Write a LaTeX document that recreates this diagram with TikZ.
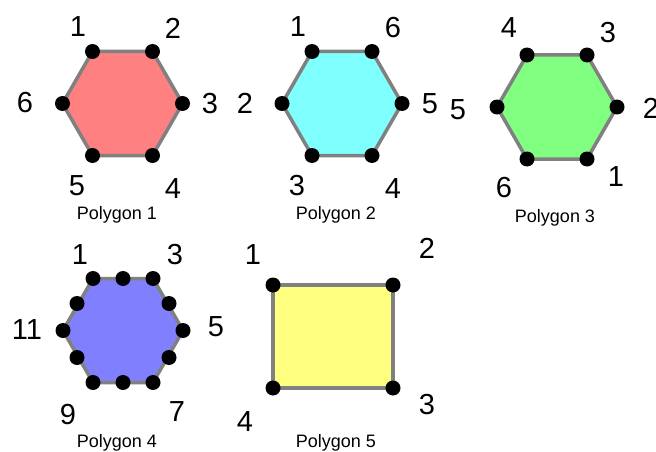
\documentclass[tikz,border=0pt]{standalone}
\usepackage{fontspec}
\setmainfont{Liberation Sans}
\definecolor{pred}{RGB}{255,128,128}
\definecolor{pcyan}{RGB}{128,255,255}
\definecolor{pgreen}{RGB}{128,255,128}
\definecolor{pblue}{RGB}{128,128,255}
\definecolor{pyellow}{RGB}{255,255,128}
\definecolor{pgray}{RGB}{128,128,128}
\tikzset{
  poly/.style={draw=pgray, line width=3.5pt, line join=round},
  vdot/.style={circle, fill=black, inner sep=0pt, minimum size=15pt},
  vlab/.style={inner sep=0pt, font=\fontsize{29}{29}\selectfont},
  captext/.style={inner sep=0pt, font=\fontsize{18}{18}\selectfont}
}
\begin{document}
\begin{tikzpicture}[x=1pt,y=-1pt]
\useasboundingbox (0,0) rectangle (656,452);
% Polygon 1
\coordinate (a1) at (92.5,51.5);
\coordinate (a2) at (152.5,51.5);
\coordinate (a3) at (182.5,103.5);
\coordinate (a4) at (152.5,155.5);
\coordinate (a5) at (92.5,155.5);
\coordinate (a6) at (62.5,103.5);
\draw[poly, fill=pred] (a1)--(a2)--(a3)--(a4)--(a5)--(a6)--cycle;
\foreach \i in {1,...,6} \node[vdot] (da\i) at (a\i) {};
\node[vlab] (la1) at (78,27) {1};
\node[vlab] (la2) at (173,28) {2};
\node[vlab] (la3) at (210,104) {3};
\node[vlab] (la4) at (173,189) {4};
\node[vlab] (la5) at (77,186) {5};
\node[vlab] (la6) at (25,103) {6};
\node[captext] (ca) at (117,215) {Polygon 1};
% Polygon 2
\coordinate (b1) at (312,51.5);
\coordinate (b6) at (372,51.5);
\coordinate (b5) at (402,103.5);
\coordinate (b4) at (372,155.5);
\coordinate (b3) at (312,155.5);
\coordinate (b2) at (282,103.5);
\draw[poly, fill=pcyan] (b1)--(b2)--(b3)--(b4)--(b5)--(b6)--cycle;
\foreach \i in {1,...,6} \node[vdot] (db\i) at (b\i) {};
\node[vlab] (lb1) at (298,27) {1};
\node[vlab] (lb6) at (393,28) {6};
\node[vlab] (lb5) at (430,104) {5};
\node[vlab] (lb4) at (393,189) {4};
\node[vlab] (lb3) at (297,186) {3};
\node[vlab] (lb2) at (245,103) {2};
\node[captext] (cb) at (336,215) {Polygon 2};
% Polygon 3
\coordinate (c4) at (527,55);
\coordinate (c3) at (587,55);
\coordinate (c2) at (617,107);
\coordinate (c1) at (587,159);
\coordinate (c6) at (527,159);
\coordinate (c5) at (497,107);
\draw[poly, fill=pgreen] (c1)--(c2)--(c3)--(c4)--(c5)--(c6)--cycle;
\foreach \i in {1,...,6} \node[vdot] (dc\i) at (c\i) {};
\node[vlab] (lc4) at (509,28) {4};
\node[vlab] (lc3) at (608,33) {3};
\node[vlab] (lc2) at (651,108) {2};
\node[vlab] (lc1) at (616,177) {1};
\node[vlab] (lc6) at (504,188) {6};
\node[vlab] (lc5) at (458,110) {5};
\node[captext] (cc) at (555,218) {Polygon 3};
% Polygon 4
\coordinate (d1) at (93,278.5);
\coordinate (d2) at (123,278.5);
\coordinate (d3) at (153,278.5);
\coordinate (d4) at (169,303.5);
\coordinate (d5) at (183,330.5);
\coordinate (d6) at (169,357.5);
\coordinate (d7) at (153,382.5);
\coordinate (d8) at (123,382.5);
\coordinate (d9) at (93,382.5);
\coordinate (d10) at (77,357.5);
\coordinate (d11) at (63,330.5);
\coordinate (d12) at (77,303.5);
\draw[poly, fill=pblue] (d1)--(d3)--(d5)--(d7)--(d9)--(d11)--cycle;
\foreach \i in {1,...,12} \node[vdot] (dd\i) at (d\i) {};
\node[vlab] (ld1) at (80,255) {1};
\node[vlab] (ld3) at (175,255) {3};
\node[vlab] (ld5) at (216,327) {5};
\node[vlab] (ld7) at (177,412) {7};
\node[vlab] (ld9) at (68,415) {9};
\node[vlab] (ld11) at (27,330) {11};
\node[captext] (cd) at (117,443) {Polygon 4};
% Polygon 5
\coordinate (e1) at (273,285);
\coordinate (e2) at (393,285);
\coordinate (e3) at (393,388);
\coordinate (e4) at (273,388);
\draw[poly, fill=pyellow] (e1)--(e2)--(e3)--(e4)--cycle;
\foreach \i in {1,...,4} \node[vdot] (de\i) at (e\i) {};
\node[vlab] (le1) at (253,255) {1};
\node[vlab] (le2) at (427,248) {2};
\node[vlab] (le3) at (427,405) {3};
\node[vlab] (le4) at (245,422) {4};
\node[captext] (ce) at (336,443) {Polygon 5};
\end{tikzpicture}
\end{document}
